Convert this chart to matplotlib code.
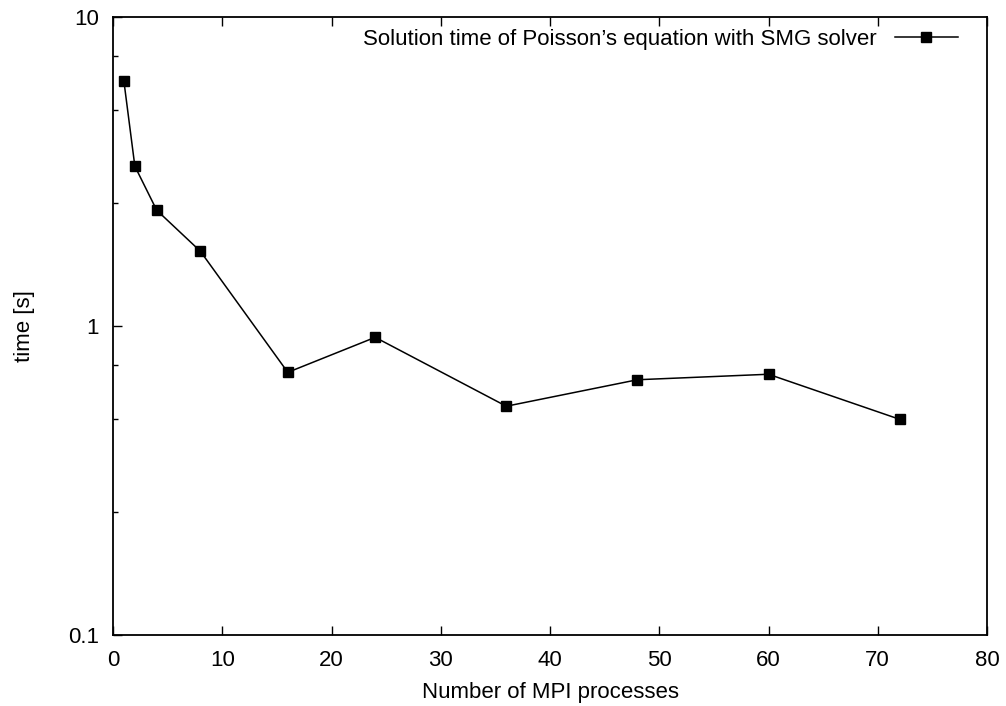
import matplotlib
matplotlib.use("Agg")
import matplotlib.pyplot as plt
from matplotlib.ticker import FixedLocator, NullFormatter

plt.rcParams['font.family'] = ['Liberation Sans', 'DejaVu Sans']

processes = [1, 2, 4, 8, 16, 24, 36, 48, 60, 72]
times = [6.19, 3.29, 2.37, 1.745, 0.708, 0.919, 0.550, 0.670, 0.698, 0.499]
series_label = "Solution time of Poisson\u2019s equation with SMG solver"
x_ticks = [0, 10, 20, 30, 40, 50, 60, 70, 80]
y_ticks = [0.1, 1, 10]
y_tick_labels = ["0.1", "1", "10"]
y_minor = [0.25, 0.5, 0.75, 2.5, 5, 7.5]

W, H = 1006, 706
fig = plt.figure(figsize=(W / 100, H / 100), dpi=100)
L, R, T, B = 113, 987, 17, 635
ax = fig.add_axes([L / W, 1 - B / H, (R - L) / W, (B - T) / H])

ax.plot(processes, times, color='black', lw=1.1, marker='s', ms=6.6,
        label=series_label)
ax.set_yscale('log')
ax.set_xlim(0, 80)
ax.set_ylim(0.1, 10)
ax.set_xticks(x_ticks)
ax.set_xticklabels([str(v) for v in x_ticks])
ax.yaxis.set_major_locator(FixedLocator(y_ticks))
ax.set_yticklabels(y_tick_labels)
ax.yaxis.set_minor_locator(FixedLocator(y_minor))
ax.yaxis.set_minor_formatter(NullFormatter())

ax.tick_params(axis='both', which='major', direction='in', length=6.5, width=1,
               labelsize=16)
ax.tick_params(axis='x', which='major', pad=11)
ax.tick_params(axis='y', which='major', pad=10)
ax.tick_params(axis='y', which='minor', direction='in', length=3.5, width=1)
ax.tick_params(axis='x', top=True)
ax.tick_params(axis='y', right=False, which='both')
for s in ax.spines.values():
    s.set_linewidth(1.3)

ax.set_xlabel("Number of MPI processes", fontsize=16, labelpad=8)
ax.set_ylabel("time [s]", fontsize=16, labelpad=24)

ax.legend(loc='upper right', frameon=False, markerfirst=False, fontsize=16,
          handlelength=2.85, handletextpad=0.8, borderpad=0, borderaxespad=0,
          bbox_to_anchor=((958 - L) / (R - L), (B - 29) / (B - T)))

fig.savefig("out.png", dpi=100)
